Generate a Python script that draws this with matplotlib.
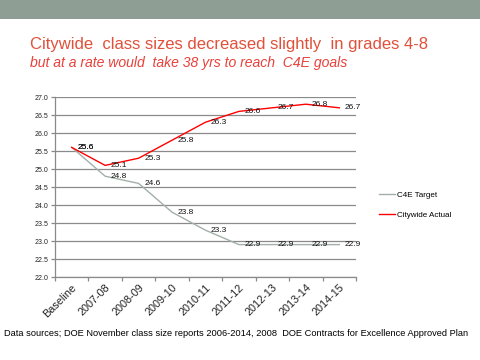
import matplotlib
matplotlib.use("Agg")
import matplotlib.pyplot as plt
from matplotlib.patches import Rectangle

categories = ["Baseline", "2007-08", "2008-09", "2009-10", "2010-11",
              "2011-12", "2012-13", "2013-14", "2014-15"]
c4e_target = [25.6, 24.8, 24.6, 23.8, 23.3, 22.9, 22.9, 22.9, 22.9]
citywide_actual = [25.6, 25.1, 25.3, 25.8, 26.3, 26.6, 26.7, 26.8, 26.7]
yticks = [22.0, 22.5, 23.0, 23.5, 24.0, 24.5, 25.0, 25.5, 26.0, 26.5, 27.0]

plt.rcParams['font.family'] = ['Liberation Sans', 'DejaVu Sans']

fig = plt.figure(figsize=(4.8, 3.6), dpi=100)
fig.patch.set_facecolor('white')

# top banner
fig.add_artist(Rectangle((0, 1 - 19/360), 1, 19/360, transform=fig.transFigure,
                         facecolor='#8E9E94', edgecolor='none'))

fig.text(30/480, 1 - 45/360, "Citywide  class sizes decreased slightly  in grades 4-8",
         color='#E0503A', fontsize=12.0, va='center', ha='left')
fig.text(30/480, 1 - 63/360, "but at a rate would  take 38 yrs to reach  C4E goals",
         color='#E8403A', fontsize=10.1, style='italic', va='center', ha='left')
fig.text(4/480, 1 - 334/360,
         "Data sources; DOE November class size reports 2006-2014, 2008  DOE Contracts for Excellence Approved Plan",
         color='black', fontsize=6.7, va='center', ha='left')

ax = fig.add_axes([55/480, 1 - 277/360, 301/480, 180/360])
x = list(range(len(categories)))
l1, = ax.plot(x, c4e_target, color='#A3B0A8', lw=1.0, label='C4E Target')
l2, = ax.plot(x, citywide_actual, color='#FF0000', lw=1.0, label='Citywide Actual')

for xi, v in zip(x, c4e_target):
    ax.annotate(f"{v:.1f}", (xi, v), xytext=(4, 0), textcoords='offset points',
                fontsize=6.0, va='center', ha='left', color='#111111')
for xi, v in zip(x, citywide_actual):
    ax.annotate(f"{v:.1f}", (xi, v), xytext=(4, 0), textcoords='offset points',
                fontsize=6.0, va='center', ha='left', color='#111111')

ax.set_xlim(-0.5, len(categories) - 0.5)
ax.set_ylim(22.0, 27.0)
ax.set_yticks(yticks)
ax.set_yticklabels([f"{t:.1f}" for t in yticks], fontsize=5, color='#222222')
ax.yaxis.grid(True, color='#8A8A8A', lw=0.9)
ax.set_axisbelow(True)
ax.set_xticks(x)
ax.set_xticklabels(categories, rotation=45, ha='right', rotation_mode='anchor',
                   fontsize=7.8, color='#222222')
ax.tick_params(axis='x', length=0, pad=4)
ax.set_xticks([i - 0.5 for i in range(len(categories) + 1)], minor=True)
ax.tick_params(axis='x', which='minor', length=3, color='#8A8A8A', width=0.9)
ax.tick_params(axis='y', length=3, color='#8A8A8A', width=0.9, pad=2)
for s in ['top', 'right']:
    ax.spines[s].set_visible(False)
ax.spines['left'].set_color('#8A8A8A')
ax.spines['bottom'].set_color('#8A8A8A')
ax.spines['left'].set_linewidth(0.9)
ax.spines['bottom'].set_linewidth(0.9)

fig.legend(handles=[l1, l2], loc='upper left', bbox_to_anchor=(376/480, 1 - 188/360),
           frameon=False, fontsize=5.8, handlelength=2.0, handletextpad=0.2,
           labelspacing=1.5, borderaxespad=0)

fig.savefig("out.png", dpi=100)
